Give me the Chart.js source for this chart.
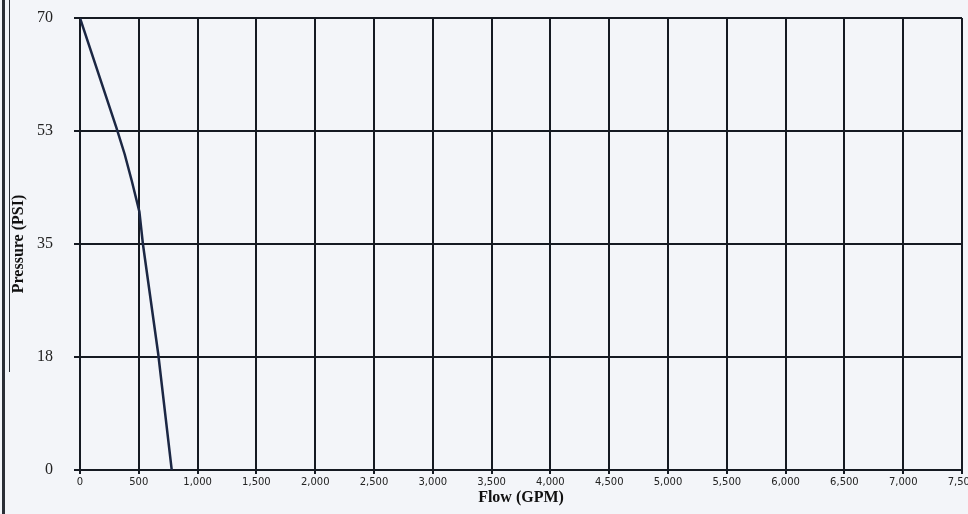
<!DOCTYPE html>
<html>
<head>
<meta charset="utf-8">
<script src="https://cdn.jsdelivr.net/npm/chart.js@4/dist/chart.umd.min.js"></script>
<style>
  html, body { margin: 0; padding: 0; background: #f3f5f9; overflow: hidden; }
  #wrap { position: relative; width: 968px; height: 514px; }
  /* scan edge of the page */
  .edge { position: absolute; top: 0; background: #2a2e36; }
</style>
</head>
<body>
<div id="wrap">
  <canvas id="pumpChart"></canvas>
  <div class="edge" style="left:2px;width:3px;height:514px"></div>
  <div class="edge" style="left:9px;width:1px;height:372px"></div>
</div>
<script>
// values
const flowGpm     = [0, 310, 380, 440, 505, 535, 665, 780];
const pressurePsi = [70, 53, 48.9, 44.8, 40, 35, 18, 0];
const yTicks      = [0, 17.5, 35, 52.5, 70];
const xMax        = 7500;
const xStep       = 500;

const ink = '#151a22';

const pumpChart = new Chart(document.getElementById('pumpChart'), {
  type: 'line',
  data: {
    datasets: [{
      label: 'Supply',
      data: flowGpm.map((f, i) => ({ x: f, y: pressurePsi[i] })),
      borderColor: '#1b2744',
      borderWidth: 2.5,
      pointRadius: 0,
      tension: 0,
      fill: false
    }]
  },
  options: {
    responsive: true,
    maintainAspectRatio: false,
    animation: false,
    layout: { padding: { top: 18, right: 6, left: 0, bottom: 0 } },
    plugins: { legend: { display: false }, tooltip: { enabled: false } },
    scales: {
      x: {
        type: 'linear',
        min: 0, max: xMax,
        ticks: {
          stepSize: xStep,
          padding: 2,
          color: '#222',
          font: { family: 'DejaVu Sans', size: 10 },
          maxRotation: 0,
          callback: v => v.toLocaleString('en-US')
        },
        grid: { color: ink, lineWidth: 2, tickLength: 4 },
        border: { color: ink, width: 2 },
        title: {
          display: true, text: 'Flow (GPM)', color: '#111',
          font: { family: 'Liberation Serif', size: 16, weight: 'bold' },
          padding: { top: 0, bottom: 7 }
        },
        afterFit: s => { s.height = 44; s.paddingRight = 0; }
      },
      y: {
        min: 0, max: 70,
        afterBuildTicks: s => { s.ticks = yTicks.map(v => ({ value: v })); },
        ticks: {
          padding: 21,
          color: '#222',
          font: { family: 'Liberation Serif', size: 16 },
          callback: v => Math.round(v)
        },
        grid: { color: ink, lineWidth: 2, tickLength: 6 },
        border: { color: ink, width: 2 },
        title: {
          display: true, text: 'Pressure (PSI)', color: '#111',
          font: { family: 'Liberation Serif', size: 16, weight: 'bold' },
          padding: { top: 9, bottom: 0 }
        },
        afterFit: s => { s.width = 80; s.paddingTop = 0; s.paddingBottom = 0; }
      }
    }
  }
});
</script>
</body>
</html>
